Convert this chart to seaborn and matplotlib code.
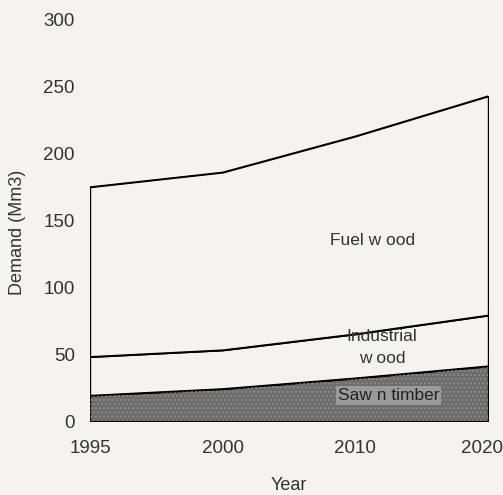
import numpy as np
import pandas as pd
import matplotlib
matplotlib.use("Agg")
import matplotlib.pyplot as plt
import matplotlib.transforms as mtransforms
import seaborn as sns

# values (Mm3), stacked components
years = ["1995", "2000", "2010", "2020"]
sawn_timber = [19, 24, 32, 41]
industrial_wood = [29, 29, 33, 38]
fuel_wood = [127, 133, 148, 164]
y_ticks = [0, 50, 100, 150, 200, 250, 300]

bg = "#f6f3ef"
sns.set_theme(style="white", rc={"figure.facecolor": bg, "axes.facecolor": bg})
plt.rcParams["font.family"] = ["Liberation Sans", "DejaVu Sans"]

df = pd.DataFrame({"Year": years, "Sawn": sawn_timber,
                   "Industrial": industrial_wood, "Fuel": fuel_wood})
x = np.arange(len(years))

fig = plt.figure(figsize=(5.03, 4.95), dpi=100)
ax = fig.add_axes([90 / 503, 74 / 495, 398 / 503, 401 / 495])

ax.stackplot(x, df["Sawn"], df["Industrial"], df["Fuel"],
             colors=["#6c6c6c", bg, bg], edgecolor="black", linewidth=1.0)
ax.fill_between(x, 0, df["Sawn"], facecolor="none", hatch="....",
                edgecolor="#8a8a8a", linewidth=0)

# outline of each cumulative layer
cum = df[["Sawn", "Industrial", "Fuel"]].cumsum(axis=1)
for col in cum.columns:
    sns.lineplot(x=x, y=cum[col].values, color="black", linewidth=1.1, ax=ax)

ax.set_xlim(0, 3)
ax.set_ylim(0, 300)
ax.set_xticks(x)
ax.set_xticklabels(years)
ax.set_yticks(y_ticks)
for s in ax.spines.values():
    s.set_visible(False)
ax.tick_params(axis="both", length=0, labelsize=13.5, colors="#333333")
ax.tick_params(axis="x", pad=14)
ax.tick_params(axis="y", pad=11)
# last year label sits right at the figure edge, nudge it in a bit
last = ax.get_xticklabels()[-1]
last.set_transform(last.get_transform() +
                   mtransforms.ScaledTranslation(-6 / 100, 0, fig.dpi_scale_trans))

ax.set_xlabel("Year", fontsize=13, color="#333333", labelpad=14)
ax.set_ylabel("Demand (Mm3)", fontsize=13, color="#333333")
ax.yaxis.set_label_coords(-0.16, 0.47)

ax.text(2.13, 135, "Fuel w ood", fontsize=12.5, color="#333333", ha="center", va="center")
ax.text(2.2, 55, "Industrial\nw ood", fontsize=12.5, color="#333333",
        ha="center", va="center", linespacing=1.6)
ax.text(2.25, 19, "Saw n timber", fontsize=12.5, color="#222222", ha="center", va="center",
        bbox=dict(facecolor="#9a9a9a", edgecolor="none", pad=1.5))

fig.savefig("out.png", dpi=100, facecolor=bg)
